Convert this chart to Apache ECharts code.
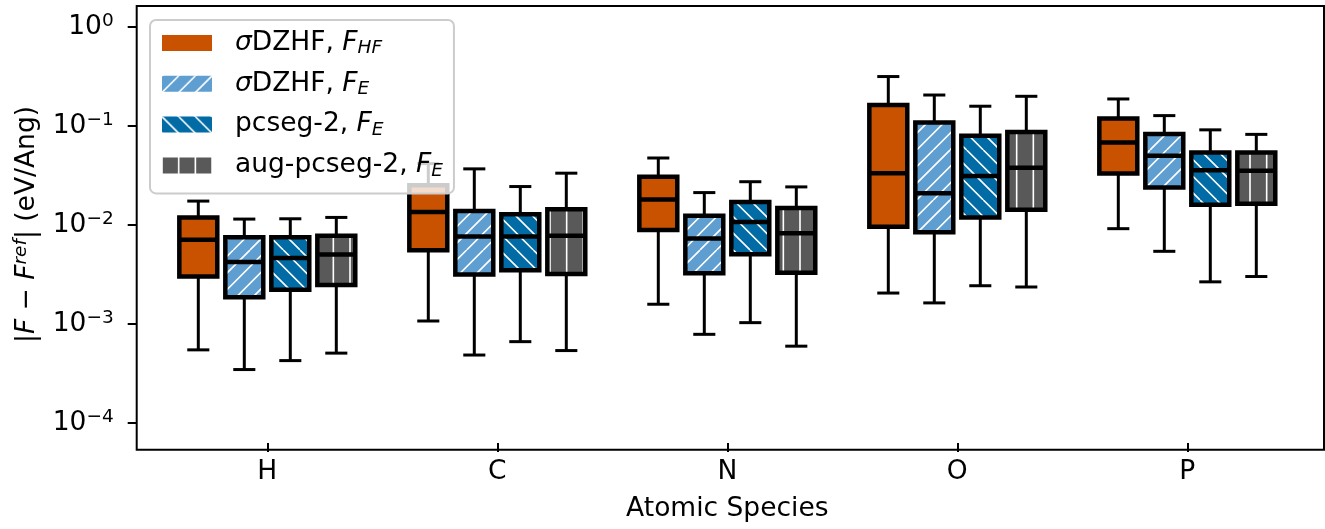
<!DOCTYPE html>
<html>
<head>
<meta charset="utf-8">
<title>Force error by atomic species</title>
<script src="https://cdn.jsdelivr.net/npm/echarts@6/dist/echarts.min.js"></script>
<style>
  html, body { margin: 0; padding: 0; background: #fff; }
  #chart { width: 1325px; height: 529px; }
</style>
</head>
<body>
<div id="chart"></div>
<script>
// x categories
var species = ['H', 'C', 'N', 'O', 'P'];

// one row per species: [lower whisker, Q1, median, Q3, upper whisker] in eV/Ang
var dzhfHF = [
  [0.000547, 0.00301, 0.00708, 0.0119, 0.0174],
  [0.00107, 0.00554, 0.01353, 0.0251, 0.0416],
  [0.00158, 0.0089, 0.0181, 0.0307, 0.0474],
  [0.00205, 0.00959, 0.0333, 0.163, 0.315],
  [0.00916, 0.0331, 0.0678, 0.119, 0.187]
];
var dzhfE = [
  [0.000346, 0.00186, 0.00421, 0.00751, 0.01145],
  [0.000485, 0.00315, 0.00763, 0.01384, 0.0368],
  [0.000785, 0.00325, 0.00729, 0.01235, 0.0212],
  [0.00163, 0.00842, 0.0209, 0.108, 0.205],
  [0.00541, 0.0238, 0.05, 0.0826, 0.127]
];
var pcsegE = [
  [0.000426, 0.00221, 0.00464, 0.00751, 0.01153],
  [0.000662, 0.00348, 0.00763, 0.01283, 0.0244],
  [0.00103, 0.00505, 0.0107, 0.017, 0.0273],
  [0.00243, 0.0119, 0.0311, 0.0795, 0.158],
  [0.00266, 0.016, 0.0357, 0.0539, 0.0912]
];
var augPcsegE = [
  [0.000507, 0.00247, 0.00502, 0.00776, 0.0119],
  [0.000538, 0.00319, 0.00776, 0.0144, 0.0333],
  [0.000596, 0.00329, 0.00823, 0.01483, 0.0242],
  [0.00236, 0.0142, 0.0377, 0.0866, 0.199],
  [0.00301, 0.0164, 0.0352, 0.0539, 0.0821]
];

var seriesNames = ['σDZHF, F_HF', 'σDZHF, F_E', 'pcseg-2, F_E', 'aug-pcseg-2, F_E'];
var legendLabels = [
  '{g|}{it|σ}{n|DZHF, }{it|F}{sub|HF}',
  '{g|}{it|σ}{n|DZHF, }{it|F}{sub|E}',
  '{g|}{n|pcseg-2, }{it|F}{sub|E}',
  '{g|}{n|aug-pcseg-2, }{it|F}{sub|E}'
];
var yTicks = [1e-4, 1e-3, 1e-2, 1e-1, 1];

var FONT = 'DejaVu Sans';
var FS = 26.5;   // main text size
var FS_SMALL = 18.5;  // sub/superscripts

// matplotlib-like hatch tiles (6 lines per 100 px)
function hatch(bg, kind) {
  var size = 50, step = size / 3;
  var c = document.createElement('canvas');
  c.width = size;
  c.height = size;
  var g = c.getContext('2d');
  g.fillStyle = bg;
  g.fillRect(0, 0, size, size);
  if (kind) {
    g.strokeStyle = '#ffffff';
    g.lineWidth = 1.6;
    g.beginPath();
    for (var k = -4; k <= 7; k++) {
      var x0 = k * step;
      if (kind === '/') {
        g.moveTo(x0, 0); g.lineTo(x0 - size, size);
      } else if (kind === '\\') {
        g.moveTo(x0, 0); g.lineTo(x0 + size, size);
      } else {
        g.moveTo(x0, 0); g.lineTo(x0, size);
      }
    }
    g.stroke();
  }
  return { image: c, repeat: 'repeat' };
}

var fills = [
  '#C85200',
  hatch('#5F9ED1', '/'),
  hatch('#006BA4', '\\'),
  hatch('#595959', '|')
];

function boxRenderer(slot) {
  return function (params, api) {
    var idx = api.value(0);
    var band = api.size([1, 1], [idx, 1])[0];
    var cx = api.coord([idx, 1])[0] + (slot - 1.5) * band * 0.2;
    var half = band * 0.0825;
    var capHalf = band * 0.048;
    var yLo = api.coord([idx, api.value(1)])[1];
    var yQ1 = api.coord([idx, api.value(2)])[1];
    var yMed = api.coord([idx, api.value(3)])[1];
    var yQ3 = api.coord([idx, api.value(4)])[1];
    var yHi = api.coord([idx, api.value(5)])[1];
    var thin = { stroke: '#000', lineWidth: 3 };
    return {
      type: 'group',
      children: [
        { type: 'line', shape: { x1: cx, y1: yQ1, x2: cx, y2: yLo }, style: thin },
        { type: 'line', shape: { x1: cx, y1: yQ3, x2: cx, y2: yHi }, style: thin },
        { type: 'line', shape: { x1: cx - capHalf, y1: yLo, x2: cx + capHalf, y2: yLo }, style: thin },
        { type: 'line', shape: { x1: cx - capHalf, y1: yHi, x2: cx + capHalf, y2: yHi }, style: thin },
        {
          type: 'rect',
          shape: { x: cx - half, y: yQ3, width: half * 2, height: yQ1 - yQ3 },
          style: { fill: fills[slot], stroke: '#000', lineWidth: 4.5 }
        },
        { type: 'line', shape: { x1: cx - half, y1: yMed, x2: cx + half, y2: yMed }, style: { stroke: '#000', lineWidth: 4.5 } }
      ]
    };
  };
}

function rows(list) {
  return list.map(function (r, i) { return [i].concat(r); });
}

var groups = [dzhfHF, dzhfE, pcsegE, augPcsegE];
var series = groups.map(function (g, s) {
  return {
    name: seriesNames[s],
    type: 'custom',
    xAxisIndex: 0,
    yAxisIndex: 0,
    itemStyle: { color: fills[s] },
    encode: { x: 0, y: [1, 2, 3, 4, 5] },
    renderItem: boxRenderer(s),
    data: rows(g)
  };
});

var chart = echarts.init(document.getElementById('chart'));
chart.setOption({
  animation: false,
  backgroundColor: '#ffffff',
  textStyle: { fontFamily: FONT },
  grid: [
    { left: 152.3, right: 22.7, top: 6, bottom: 79.3 },
    { left: 136.7, right: 1, top: 6, bottom: 79.3, show: true, borderColor: '#000', borderWidth: 2, backgroundColor: 'transparent' }
  ],
  legend: {
    orient: 'vertical',
    left: 150,
    top: 20,
    padding: [8, 11, 13, 12],
    itemWidth: 50,
    itemHeight: 16,
    itemGap: 10.8,
    icon: 'rect',
    backgroundColor: 'rgba(255,255,255,0.8)',
    borderColor: '#cccccc',
    borderWidth: 2,
    borderRadius: 6,
    data: seriesNames,
    formatter: function (name) { return legendLabels[seriesNames.indexOf(name)]; },
    itemStyle: { borderWidth: 0 },
    textStyle: {
      fontFamily: FONT, fontSize: FS, color: '#000', lineHeight: 30,
      rich: {
        g: { width: 18 },
        n: { fontFamily: FONT, fontSize: FS, color: '#000', lineHeight: 30 },
        it: { fontFamily: FONT, fontSize: FS, color: '#000', fontStyle: 'italic', lineHeight: 30 },
        sub: { fontFamily: FONT, fontSize: FS_SMALL, color: '#000', fontStyle: 'italic', lineHeight: 18, verticalAlign: 'bottom' }
      }
    }
  },
  xAxis: [
    {
      type: 'category',
      gridIndex: 0,
      data: species,
      axisLine: { show: false },
      axisTick: { show: true, alignWithLabel: true, length: 9, lineStyle: { color: '#000', width: 2 } },
      axisLabel: { fontFamily: FONT, fontSize: FS, color: '#000', margin: 14, lineHeight: 30 },
      splitLine: { show: false },
      name: 'Atomic Species',
      nameLocation: 'middle',
      nameGap: 51,
      nameTextStyle: { fontFamily: FONT, fontSize: FS, color: '#000', lineHeight: 30 }
    },
    { type: 'value', gridIndex: 1, show: false }
  ],
  yAxis: [
    {
      type: 'log',
      logBase: 10,
      gridIndex: 0,
      min: 6.27e-5,
      max: 1.625,
      offset: 15.6,
      axisLine: { show: false },
      axisTick: { show: true, length: 9, lineStyle: { color: '#000', width: 2 }, customValues: yTicks },
      minorTick: { show: false },
      splitLine: { show: false },
      axisLabel: {
        customValues: yTicks,
        margin: 23,
        formatter: function (v) {
          var e = Math.round(Math.log10(v));
          return '{b|10}{e|' + (e < 0 ? '\u2212' + (-e) : e) + '}';
        },
        rich: {
          b: { fontFamily: FONT, fontSize: FS, color: '#000', lineHeight: 30 },
          e: { fontFamily: FONT, fontSize: FS_SMALL, color: '#000', lineHeight: 22, verticalAlign: 'top' }
        }
      },
      name: '|{it|F} \u2212 {it|F}{sup|ref}| (eV/Ang)',
      nameLocation: 'middle',
      nameGap: 95,
      nameTextStyle: {
        fontFamily: FONT, fontSize: FS, color: '#000', lineHeight: 30,
        rich: {
          it: { fontFamily: FONT, fontSize: FS, color: '#000', fontStyle: 'italic', lineHeight: 30 },
          sup: { fontFamily: FONT, fontSize: FS_SMALL, color: '#000', fontStyle: 'italic', lineHeight: 20, verticalAlign: 'top' }
        }
      }
    },
    { type: 'value', gridIndex: 1, show: false }
  ],
  series: series
});
</script>
</body>
</html>
